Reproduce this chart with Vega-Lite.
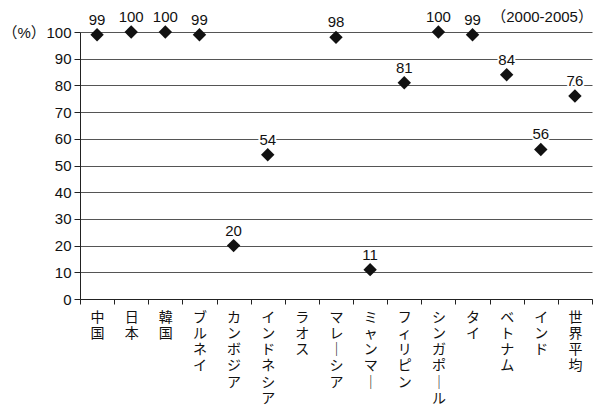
{
  "$schema": "https://vega.github.io/schema/vega-lite/v6.json",
  "width": 512,
  "height": 267,
  "autosize": {"type": "none"},
  "padding": {"left": 80, "top": 32, "right": 2, "bottom": 111},
  "background": "white",
  "config": {
    "font": "Liberation Sans, Noto Sans CJK JP",
    "view": {"stroke": null},
    "axis": {"labelColor": "#111", "titleColor": "#111", "domainColor": "#222", "tickColor": "#222"}
  },
  "data": {
    "values": [
      {"国": "中国", "率": 99},
      {"国": "日本", "率": 100},
      {"国": "韓国", "率": 100},
      {"国": "ブルネイ", "率": 99},
      {"国": "カンボジア", "率": 20},
      {"国": "インドネシア", "率": 54},
      {"国": "マレーシア", "率": 98},
      {"国": "ミャンマー", "率": 11},
      {"国": "フィリピン", "率": 81},
      {"国": "シンガポール", "率": 100},
      {"国": "タイ", "率": 99},
      {"国": "ベトナム", "率": 84},
      {"国": "インド", "率": 56},
      {"国": "世界平均", "率": 76}
    ]
  },
  "encoding": {
    "x": {
      "field": "国",
      "type": "nominal",
      "scale": {
        "domain": ["中国", "日本", "韓国", "ブルネイ", "カンボジア", "インドネシア", "ラオス", "マレーシア", "ミャンマー", "フィリピン", "シンガポール", "タイ", "ベトナム", "インド", "世界平均"],
        "paddingInner": 0,
        "paddingOuter": 0
      },
      "axis": {
        "title": null,
        "tickBand": "extent",
        "labelAngle": 0,
        "labelAlign": "center",
        "labelBaseline": "top",
        "labelFont": "Noto Sans CJK JP",
        "labelFontSize": 14,
        "labelLineHeight": 16.3,
        "labelPadding": 6,
        "labelExpr": "split(replace(datum.label, 'ー', '｜'), '')",
        "tickSize": 5,
        "domainColor": "#222",
        "labelOverlap": false,
        "labelBound": false
      }
    },
    "y": {
      "field": "率",
      "type": "quantitative",
      "scale": {"domain": [0, 100], "nice": false},
      "axis": {
        "title": "（%）",
        "titleAngle": 0,
        "titleAlign": "left",
        "titleBaseline": "middle",
        "titleX": -78,
        "titleY": 0,
        "titleFontSize": 15,
        "titleFontWeight": "normal",
        "values": [0, 10, 20, 30, 40, 50, 60, 70, 80, 90, 100],
        "labelFontSize": 15,
        "labelPadding": 3,
        "tickSize": 6,
        "grid": true,
        "gridColor": "#555",
        "gridWidth": 1
      }
    }
  },
  "layer": [
    {
      "mark": {"type": "point", "shape": "diamond", "filled": true, "color": "#111", "size": 180, "opacity": 1}
    },
    {
      "mark": {"type": "text", "dy": -10, "baseline": "alphabetic", "fontSize": 15, "stroke": "white", "strokeWidth": 4, "color": "white"},
      "encoding": {"text": {"field": "率", "type": "quantitative"}}
    },
    {
      "mark": {"type": "text", "dy": -10, "baseline": "alphabetic", "fontSize": 15, "color": "#111"},
      "encoding": {"text": {"field": "率", "type": "quantitative"}}
    },
    {
      "data": {"values": [{"国": "世界平均", "率": 100, "期間": "（2000-2005）"}]},
      "mark": {"type": "text", "align": "right", "dx": 18, "dy": -10, "baseline": "alphabetic", "fontSize": 15, "color": "#111"},
      "encoding": {"text": {"field": "期間", "type": "nominal"}}
    }
  ]
}
